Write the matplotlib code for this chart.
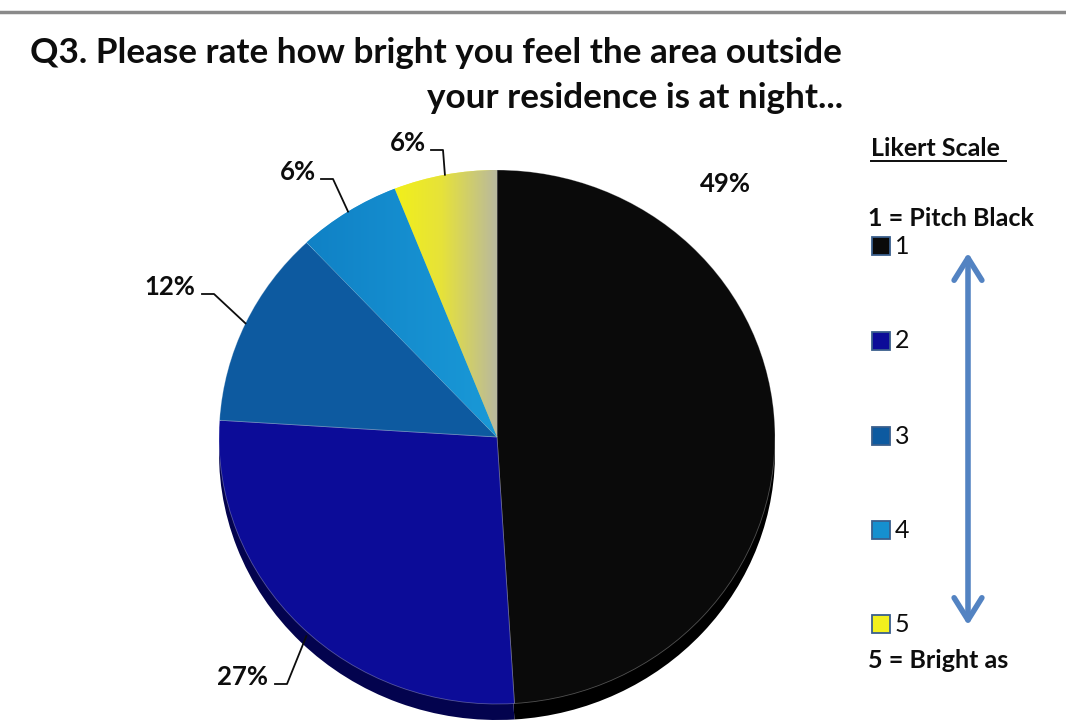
import matplotlib
matplotlib.use("Agg")
import matplotlib.pyplot as plt
from matplotlib.patches import Rectangle, FancyArrowPatch
from matplotlib.lines import Line2D
from matplotlib.colors import LinearSegmentedColormap
import numpy as np

# ---- data ----
categories = ["1", "2", "3", "4", "5"]
values = [49, 27, 12, 6, 6]
pct_labels = ["49%", "27%", "12%", "6%", "6%"]
colors = ["#0a0a0a", "#0c0c98", "#0d5aa0", "#1690cf", "#f2f01e"]
side_colors = ["#000000", "#03034e", "#053a6a", "#0d5e8a", "#a0a010"]
title_line1 = "Q3. Please rate how bright you feel the area outside"
title_line2 = "your residence is at night..."
legend_title = "Likert Scale"
scale_top = "1 = Pitch Black"
scale_bottom = "5 = Bright as"

W, H = 1066, 723
fig = plt.figure(figsize=(W / 100, H / 100), dpi=100)
FONT = "Lato"
TXT = "#0d0d0d"

def fx(x):
    return x / W

def fy(y):
    return 1 - y / H

# top rule
fig.add_artist(Line2D([0, 1], [fy(12), fy(12)], color="#8a8a8a", lw=2.5))

# title
fig.text(fx(30), fy(63), title_line1, fontsize=25.3, fontweight="bold",
         family=FONT, ha="left", va="baseline", color=TXT)
fig.text(fx(843), fy(108), title_line2, fontsize=25.3, fontweight="bold",
         family=FONT, ha="right", va="baseline", color=TXT)

# pie axes: center (497, 437), rx 278, ry 267
cx, cy, rx, ry = 497, 437, 278, 267
ax = fig.add_axes([fx(cx - rx), fy(cy + ry), 2 * rx / W, 2 * ry / H])
depth = 16 / ry
w_side, _ = ax.pie(values, colors=side_colors, startangle=90, counterclock=False,
                   center=(0, -depth), radius=1.0,
                   wedgeprops=dict(linewidth=0))
w_top, _ = ax.pie(values, colors=colors, startangle=90, counterclock=False,
                  center=(0, 0), radius=1.0,
                  wedgeprops=dict(linewidth=0.6, edgecolor=(1, 1, 1, 0.3)))
for w in list(w_side) + list(w_top):
    w.set_clip_on(False)

# gradient overlays (shading as in the reference)
grad = np.linspace(0, 1, 256).reshape(1, -1)
cmap5 = LinearSegmentedColormap.from_list("g5", ["#f4f214", "#e6e23a", "#b8b8a0"])
im = ax.imshow(grad, cmap=cmap5, extent=(-0.4, 0.0, -0.05, 1.05), aspect="auto",
               zorder=w_top[4].get_zorder() + 0.1)
im.set_clip_path(w_top[4])
cmap4 = LinearSegmentedColormap.from_list("g4", ["#0f7fc4", "#1a9ad8"])
im4 = ax.imshow(grad, cmap=cmap4, extent=(-0.75, 0.02, -0.05, 1.05), aspect="auto",
                zorder=w_top[3].get_zorder() + 0.1)
im4.set_clip_path(w_top[3])

ax.set_aspect("auto")
ax.set_xlim(-1, 1)
ax.set_ylim(-1, 1)
ax.axis("off")

# percentage labels with leader lines
label_pos = {  # label centre in pixels
    0: (725, 184),
    1: (243, 677),
    2: (170, 287),
    3: (298, 172),
    4: (408, 143),
}
LFS = 18.5
total = sum(values)
start = 90.0

def p2d(px, py):
    return ((px - cx) / rx, -(py - cy) / ry)

for i, v in enumerate(values):
    span = 360.0 * v / total
    mid = np.deg2rad(start - span / 2)
    start -= span
    ex, ey = np.cos(mid), np.sin(mid)
    tx, ty = label_pos[i]
    fig.text(fx(tx), fy(ty), pct_labels[i], fontsize=LFS, fontweight="bold",
             family=FONT, ha="center", va="center", color=TXT)
    if i == 0:
        continue
    half_w = 29 if len(pct_labels[i]) == 3 else 20
    lx0 = tx + half_w + 3
    ly0 = ty + 7
    start_pt = p2d(lx0, ly0)
    knee = p2d(lx0 + 12, ly0)
    if i == 1:
        edge = (ex * 0.97, ey * 0.97 - depth)
    else:
        edge = (ex, ey)
    ax.plot([start_pt[0], knee[0], edge[0]], [start_pt[1], knee[1], edge[1]],
            color=TXT, lw=1.3, clip_on=False)

# legend
fig.text(fx(871), fy(149), legend_title, fontsize=18, fontweight="bold",
         family=FONT, ha="left", va="center", color=TXT)
fig.add_artist(Line2D([fx(871), fx(1006)], [fy(161), fy(161)], color=TXT, lw=1.4))
fig.text(fx(868), fy(218), scale_top, fontsize=18, fontweight="bold",
         family=FONT, ha="left", va="center", color=TXT)
fig.text(fx(868), fy(660), scale_bottom, fontsize=18, fontweight="bold",
         family=FONT, ha="left", va="center", color=TXT)
ys = [246, 341, 436, 530, 624]
for cat, col, y in zip(categories, colors, ys):
    fig.add_artist(Rectangle((fx(872), fy(y + 9)), 18 / W, 18 / H, facecolor=col,
                             edgecolor="#3a5f8c", lw=1.3, transform=fig.transFigure))
    fig.text(fx(895), fy(y), cat, fontsize=18, family=FONT, ha="left",
             va="center", color=TXT)

# double-headed arrow
arr = FancyArrowPatch((fx(968), fy(628)), (fx(968), fy(250)),
                      arrowstyle="<->,head_length=8,head_width=5",
                      color="#5383c2", lw=4, transform=fig.transFigure,
                      mutation_scale=2)
fig.add_artist(arr)

fig.savefig("out.png", dpi=100)
